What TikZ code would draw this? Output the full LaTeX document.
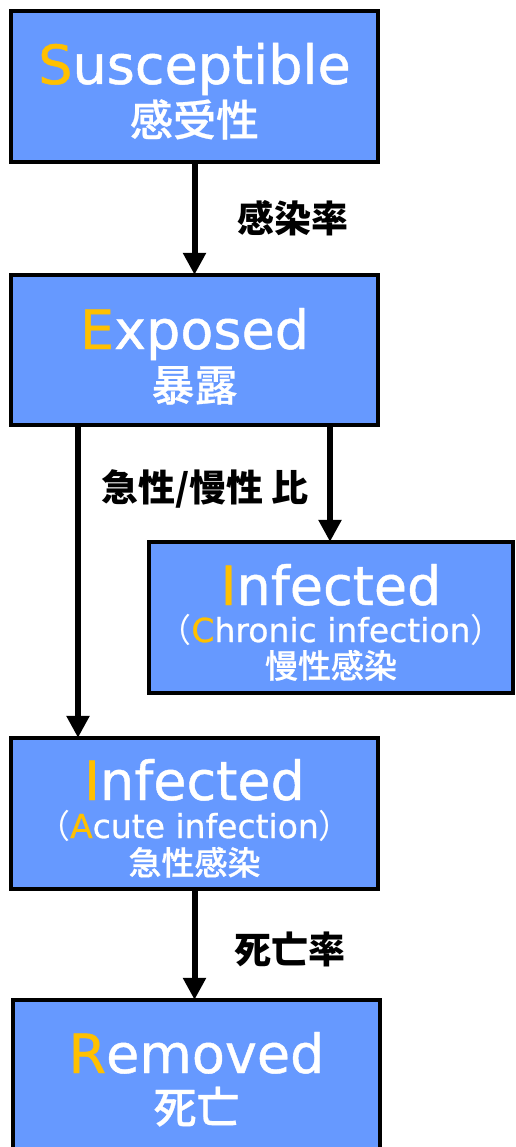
\documentclass[tikz,border=0pt]{standalone}
\usepackage{fontspec}
\setmainfont{DejaVu Sans}[FakeBold=0.8]
\newfontfamily\jp{Noto Sans CJK JP}
\newfontfamily\jpm{Noto Sans CJK JP Medium}[FakeBold=0.6]
\usetikzlibrary{arrows.meta}
\definecolor{boxblue}{HTML}{6699FF}
\definecolor{hl}{HTML}{FFC000}
\tikzset{
  statebox/.style={draw=black,line width=3.5pt,fill=boxblue,inner sep=0pt},
  big/.style={text=white,anchor=base,inner sep=0pt,font=\fontsize{54}{54}\selectfont},
  mid/.style={text=white,anchor=base,inner sep=0pt,font=\fontsize{33}{33}\selectfont},
  jpbig/.style={text=white,anchor=base,inner sep=0pt,font=\jpm\fontsize{43}{43}\selectfont},
  jpmid/.style={text=white,anchor=base,inner sep=0pt,font=\jpm\fontsize{33}{33}\selectfont},
  lbl/.style={text=black,anchor=base,inner sep=0pt,font=\jp\bfseries\fontsize{37}{37}\selectfont},
  flow/.style={line width=6pt,-{Triangle[width=22pt,length=22pt]}}
}
\begin{document}
\begin{tikzpicture}[x=1pt,y=-1pt]
\useasboundingbox (0,0) rectangle (515,1147);
\clip (0,0) rectangle (515,1147);
% boxes
\path[statebox] (11,11) rectangle (378,162);
\node (S) at (194.5,86.5) [minimum width=367pt,minimum height=151pt,inner sep=0pt] {};
\path[statebox] (11,275) rectangle (378,425);
\node (E) at (194.5,350) [minimum width=367pt,minimum height=150pt,inner sep=0pt] {};
\path[statebox] (149,542) rectangle (513,693);
\node (C) at (331,617.5) [minimum width=364pt,minimum height=151pt,inner sep=0pt] {};
\path[statebox] (11,738) rectangle (378,889);
\node (A) at (194.5,813.5) [minimum width=367pt,minimum height=151pt,inner sep=0pt] {};
\path[statebox] (13,1000) rectangle (380,1170);
\node (R) at (196.5,1085) [minimum width=367pt,minimum height=170pt,inner sep=0pt] {};
% texts
\node[big] (St) at (194.5,84) {\textcolor{hl}{S}usceptible};
\node[jpbig] (Sj) at (194.5,136) {感受性};
\node[big] (Et) at (194.5,349) {\textcolor{hl}{E}xposed};
\node[jpbig] (Ej) at (194.5,401) {暴露};
\node[big] (Ct) at (331,605) {\textcolor{hl}{I}nfected};
\node[mid] (Cm) at (331,642) {{\jp （}\textcolor{hl}{C}hronic infection{\jp ）}};
\node[jpmid] (Cj) at (331,678) {慢性感染};
\node[big] (At) at (194.5,800) {\textcolor{hl}{I}nfected};
\node[mid] (Am) at (194.5,838) {{\jp （}\textcolor{hl}{A}cute infection{\jp ）}};
\node[jpmid] (Aj) at (194.5,875) {急性感染};
\node[big] (Rt) at (196.5,1073) {\textcolor{hl}{R}emoved};
\node[jpbig] (Rj) at (196.5,1123) {死亡};
% connectors
\coordinate (xa) at (78,0);
\coordinate (xc) at (330,0);
\draw[flow] (S.south) -- (E.north);
\draw[flow] (E.south -| xc) -- (C.north -| xc);
\draw[flow] (E.south -| xa) -- (A.north -| xa);
\draw[flow] (A.south) -- (R.north -| A.south);
% labels
\node[lbl] (L1) at (293,233) {感染率};
\node[lbl] (L2) at (205,501) {急性/慢性 比};
\node[lbl] (L3) at (290,963) {死亡率};
\end{tikzpicture}
\end{document}
